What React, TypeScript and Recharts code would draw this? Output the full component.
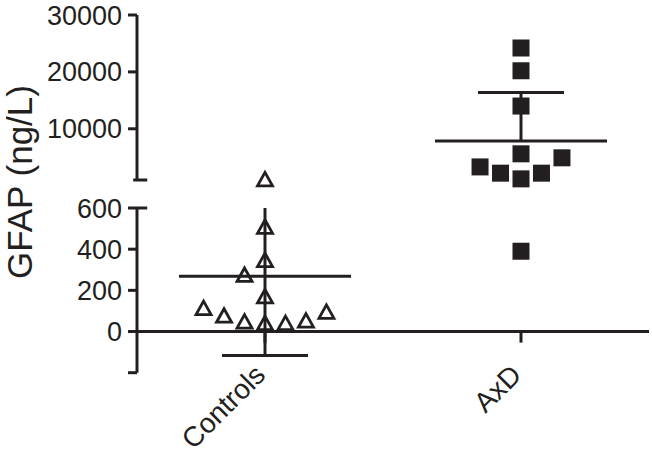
import { ScatterChart, Scatter, XAxis, YAxis, ReferenceLine } from 'recharts'

const INK = '#231f20'
const FONT = '"Liberation Sans", Arial, Helvetica, sans-serif'

const groups = ['Controls', 'AxD']
// centre of each group on the numeric x axis
const groupX = [0.5, 1.5]
const colStep = 0.08

// GFAP (ng/L), with the jitter column of each point
const controlsValues = [1150, 510, 348, 172, 42, 276, 49, 115, 78, 42, 54, 97]
const controlsCols   = [0, 0, 0, 0, 0, -1, -1, -3, -2, 1, 2, 3]

const axdValues = [24200, 20200, 14000, 5600, 1200, 3300, 2200, 2200, 4900, 390]
const axdCols   = [0, 0, 0, 0, 0, -2, -1, 1, 2, 0]

const means = [269, 7840]
const sds = [386, 8560]
const showLowerBar = [true, false]

// split y axis
const upperDomain: [number, number] = [1000, 30000]
const upperTicks = [10000, 20000, 30000]
const lowerDomain: [number, number] = [-200, 600]
const lowerTicks = [-200, 0, 200, 400, 600]

const MEAN_HALF = 0.336
const CAP_HALF = 0.168

function toPoints(values: number[], cols: number[], g: number) {
  return values.map((v, i) => ({ x: groupX[g] + cols[i] * colStep, y: v }))
}

const controlsPts = toPoints(controlsValues, controlsCols, 0)
const axdPts = toPoints(axdValues, axdCols, 1)

const inDom = (v: number, d: [number, number]) => v >= d[0] && v <= d[1]

function statLines(d: [number, number]) {
  const out: any[] = []
  groups.forEach((_, g) => {
    const gx = groupX[g]
    const m = means[g]
    const lo = showLowerBar[g] ? m - sds[g] : m
    const hi = m + sds[g]
    const line = { stroke: INK, strokeWidth: 3 }
    if (inDom(m, d)) {
      out.push(<ReferenceLine key={`m${g}`} segment={[{ x: gx - MEAN_HALF, y: m }, { x: gx + MEAN_HALF, y: m }]} {...line} />)
    }
    if (hi >= d[0] && lo <= d[1]) {
      const a = Math.max(lo, d[0])
      const b = Math.min(hi, d[1])
      out.push(<ReferenceLine key={`v${g}`} segment={[{ x: gx, y: a }, { x: gx, y: b }]} {...line} />)
    }
    if (inDom(hi, d)) {
      out.push(<ReferenceLine key={`h${g}`} segment={[{ x: gx - CAP_HALF, y: hi }, { x: gx + CAP_HALF, y: hi }]} {...line} />)
    }
    if (showLowerBar[g] && inDom(lo, d)) {
      out.push(<ReferenceLine key={`l${g}`} segment={[{ x: gx - CAP_HALF, y: lo }, { x: gx + CAP_HALF, y: lo }]} {...line} />)
    }
  })
  return out
}

const Triangle = (p: any) => {
  const { cx, cy } = p
  if (cx == null || cy == null) return <g />
  const w = 15
  const h = 13.5
  return (
    <path
      d={`M${cx},${cy - h / 2} L${cx + w / 2},${cy + h / 2} L${cx - w / 2},${cy + h / 2} Z`}
      fill="none" stroke={INK} strokeWidth={2.8} strokeLinejoin="miter"
    />
  )
}

const Square = (p: any) => {
  const { cx, cy } = p
  if (cx == null || cy == null) return <g />
  return <rect x={cx - 8.5} y={cy - 8.5} width={17} height={17} fill={INK} />
}

const CategoryTick = (p: any) => {
  const { x, y, payload } = p
  const name = groups[groupX.indexOf(payload.value)]
  const tx = x + 2
  const ty = y + 4
  return (
    <text x={tx} y={ty} transform={`rotate(-45, ${tx}, ${ty})`} textAnchor="end"
      fill={INK} fontSize={28} fontFamily={FONT}>
      {name}
    </text>
  )
}

const axisStyle = { stroke: INK, strokeWidth: 3 }
const tickStyle = { fill: INK, fontSize: 27, fontFamily: FONT }

const W = 652
const H = 468

export default function App() {
  const upperData = (pts: { x: number; y: number }[]) => pts.filter(p => p.y >= upperDomain[0])
  const lowerData = (pts: { x: number; y: number }[]) => pts.filter(p => p.y < upperDomain[0])

  return (
    <div style={{ position: 'relative', width: W, height: H, background: '#fff' }}>
      <style>{'body{margin:0}'}</style>

      <div style={{ position: 'absolute', left: 0, top: 0 }}>
        <ScatterChart width={W} height={H} margin={{ top: 208, right: 3, bottom: 65.3, left: 0 }}>
          <XAxis type="number" dataKey="x" domain={[0, 2]} ticks={groupX} height={30}
            axisLine={false} tickLine={false} tickSize={0} tickMargin={0} tick={<CategoryTick />} />
          <YAxis type="number" dataKey="y" domain={lowerDomain} ticks={lowerTicks} width={137}
            tickSize={9} tickMargin={6} tick={tickStyle} axisLine={axisStyle} tickLine={axisStyle}
            tickFormatter={(v: number) => (v === lowerDomain[0] ? '' : String(v))} />
          <ReferenceLine y={0} {...axisStyle} />
          {groupX.map(gx => (
            <ReferenceLine key={`t${gx}`} segment={[{ x: gx, y: 0 }, { x: gx, y: -54 }]} {...axisStyle} />
          ))}
          <ReferenceLine segment={[{ x: 0, y: 600 }, { x: 0.04, y: 600 }]} {...axisStyle} />
          {statLines(lowerDomain)}
          <Scatter data={lowerData(controlsPts)} shape={<Triangle />} isAnimationActive={false} />
          <Scatter data={lowerData(axdPts)} shape={<Square />} isAnimationActive={false} />
        </ScatterChart>
      </div>

      <div style={{ position: 'absolute', left: 0, top: 0 }}>
        <ScatterChart width={W} height={H} margin={{ top: 15, right: 3, bottom: 288, left: 0 }}>
          <XAxis type="number" dataKey="x" domain={[0, 2]} hide />
          <YAxis type="number" dataKey="y" domain={upperDomain} ticks={upperTicks} width={137}
            tickSize={9} tickMargin={6} tick={tickStyle} axisLine={axisStyle} tickLine={axisStyle} />
          <ReferenceLine segment={[{ x: -0.015, y: 1000 }, { x: 0.04, y: 1000 }]} {...axisStyle} ifOverflow="visible" />
          {statLines(upperDomain)}
          <Scatter data={upperData(controlsPts)} shape={<Triangle />} isAnimationActive={false} />
          <Scatter data={upperData(axdPts)} shape={<Square />} isAnimationActive={false} />
        </ScatterChart>
      </div>

      <svg width={W} height={H} style={{ position: 'absolute', left: 0, top: 0, pointerEvents: 'none' }}>
        <text transform="translate(32,182) rotate(-90)" textAnchor="middle" fill={INK}
          fontSize={35} fontFamily={FONT}>
          GFAP (ng/L)
        </text>
      </svg>
    </div>
  )
}
